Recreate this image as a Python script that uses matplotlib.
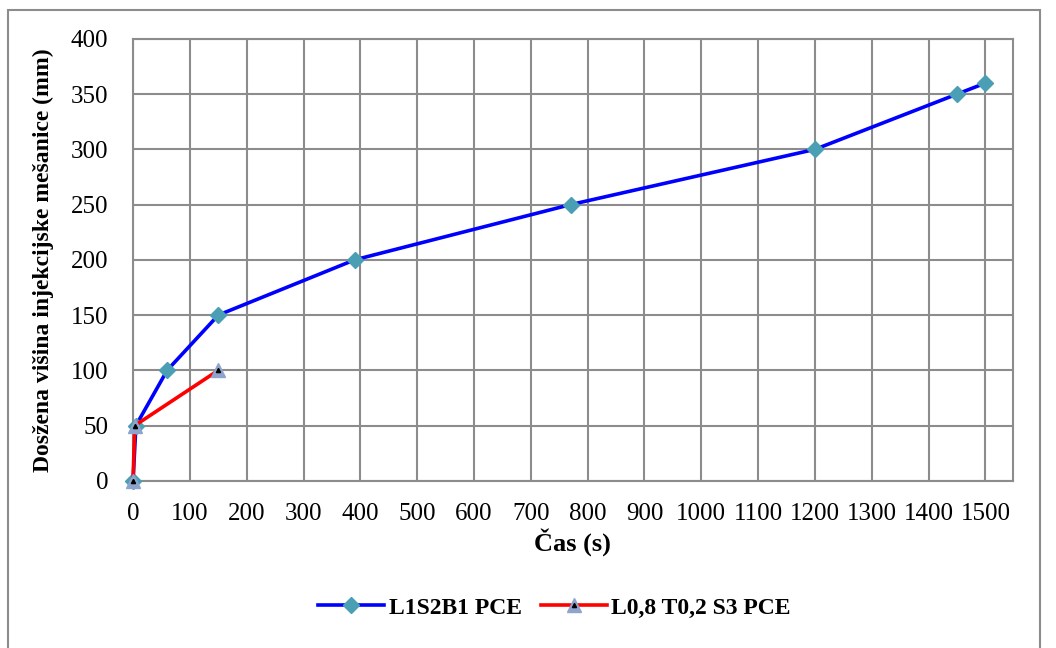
import matplotlib
matplotlib.use("Agg")
import matplotlib.pyplot as plt
from matplotlib.patches import Rectangle
from matplotlib.legend_handler import HandlerTuple

# data
time_a = [0, 5, 60, 150, 390, 770, 1200, 1450, 1500]
height_a = [0, 50, 100, 150, 200, 250, 300, 350, 360]
time_b = [0, 3, 150]
height_b = [0, 50, 100]
label_a = "L1S2B1 PCE"
label_b = "L0,8 T0,2 S3 PCE"
x_ticks = list(range(0, 1501, 100))
y_ticks = list(range(0, 401, 50))

plt.rcParams["font.family"] = ["Liberation Serif", "DejaVu Serif"]

fig = plt.figure(figsize=(10.56, 6.48), dpi=100)
ax = fig.add_axes([0.126, 0.258, 0.833, 0.682])

# outer chart frame
fig.patches.append(Rectangle((8 / 1056, -0.05), (1040 - 8) / 1056, 1.05 - 10 / 648,
                             transform=fig.transFigure, fill=False,
                             edgecolor="#8c8c8c", linewidth=1.5))

la, = ax.plot(time_a, height_a, color="#0000ff", linewidth=2.6, marker="D",
              markersize=8, markerfacecolor="#4a9fb5", markeredgecolor="#4a9fb5",
              zorder=3, clip_on=False)
lb, = ax.plot(time_b, height_b, color="#ff0000", linewidth=2.6, marker="^",
              markersize=10, markerfacecolor="#8ea4cc", markeredgecolor="#8ea4cc",
              zorder=4, clip_on=False)
dots, = ax.plot(time_b, height_b, linestyle="none", marker="^", markersize=3,
                color="black", zorder=5, clip_on=False)

ax.set_xlim(0, 1548)
ax.set_ylim(0, 400)
ax.set_xticks(x_ticks)
ax.set_yticks(y_ticks)
ax.tick_params(length=0, labelsize=18)
ax.tick_params(axis="x", pad=16)
ax.tick_params(axis="y", pad=18)
ax.grid(True, color="#8c8c8c", linewidth=1.5)
ax.set_axisbelow(True)
for s in ax.spines.values():
    s.set_color("#8c8c8c")
    s.set_linewidth(1.5)

ax.set_xlabel("Čas (s)", fontsize=19, fontweight="bold", labelpad=2)
ax.set_ylabel("Dosžena višina injekcijske mešanice (mm)", fontsize=17,
              fontweight="bold", labelpad=12)

fig.legend([la, (lb, dots)], [label_a, label_b], loc="center",
           bbox_to_anchor=(0.525, 0.062), ncol=2, frameon=False,
           prop={"weight": "bold", "size": 17}, handlelength=2.8,
           handletextpad=0.2, columnspacing=0.8,
           handler_map={tuple: HandlerTuple(ndivide=1, pad=0)})

fig.savefig("out.png", dpi=100)
